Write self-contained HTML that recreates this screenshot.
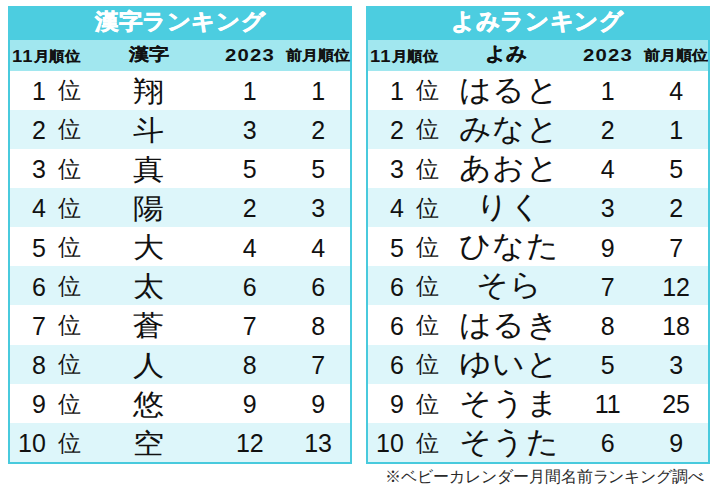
<!DOCTYPE html>
<html><head><meta charset="utf-8"><style>
html,body{margin:0;padding:0;background:#fff;width:720px;height:492px;overflow:hidden;position:relative}
body{font-family:"Liberation Sans",sans-serif}
.box{position:absolute;top:6px;width:340px;height:454px;border:2px solid #48cadd;background:#fff}
.title{position:absolute;top:6px;width:344px;height:33.75px;background:#4ccde0}
.head{position:absolute;top:39.75px;width:340px;height:30.75px;background:#a1e7ef}
.alt{position:absolute;width:340px;background:#ddf6fa}
.t,.d,.i,.k1,.k2{position:absolute;white-space:nowrap;line-height:1;transform-origin:0 0}
.d{font-size:25px;color:#111}
.i{font-size:22.5px;color:#111}
.k1{font-size:28px;width:200px;text-align:center;transform:scaleX(1.11);transform-origin:100px 0;color:#111}
.k2{font-size:30px;width:200px;text-align:center;transform:scaleX(1.065);transform-origin:100px 0;color:#111}
</style></head><body>
<div class="box" style="left:8px"></div><div class="title" style="left:8px"></div><div class="head" style="left:10px"></div><div class="alt" style="left:10px;top:109.65px;height:39.15px"></div><div class="alt" style="left:10px;top:187.95px;height:39.15px"></div><div class="alt" style="left:10px;top:266.25px;height:39.15px"></div><div class="alt" style="left:10px;top:344.55px;height:39.15px"></div><div class="alt" style="left:10px;top:422.85px;height:39.15px"></div>
<div class="box" style="left:366px"></div><div class="title" style="left:366px"></div><div class="head" style="left:368px"></div><div class="alt" style="left:368px;top:109.65px;height:39.15px"></div><div class="alt" style="left:368px;top:187.95px;height:39.15px"></div><div class="alt" style="left:368px;top:266.25px;height:39.15px"></div><div class="alt" style="left:368px;top:344.55px;height:39.15px"></div><div class="alt" style="left:368px;top:422.85px;height:39.15px"></div>
<span class="t" style="left:94.63px;top:10.62px;font-size:22.40px;transform:scaleX(1.0719);font-weight:bold;color:#fff;-webkit-text-stroke:0.6px #fff;">漢字ランキング</span><span class="t" style="left:450.55px;top:10.37px;font-size:23.01px;transform:scaleX(1.0263);font-weight:bold;color:#fff;-webkit-text-stroke:0.6px #fff;">よみランキング</span><span class="t" style="left:129.00px;top:46.58px;font-size:16.97px;transform:scaleX(1.1822);font-weight:bold;color:#111;-webkit-text-stroke:0.15px #111;">漢字</span><span class="t" style="left:485.25px;top:44.08px;font-size:19.18px;transform:scaleX(1.0918);font-weight:bold;color:#111;-webkit-text-stroke:0.15px #111;">よみ</span><span class="t" style="left:225.39px;top:47.59px;font-size:16.96px;transform:scaleX(1.1982);font-weight:bold;color:#111;letter-spacing:1.0px;">2023</span><span class="t" style="left:583.39px;top:47.59px;font-size:16.96px;transform:scaleX(1.1982);font-weight:bold;color:#111;letter-spacing:1.0px;">2023</span><span class="t" style="left:286.17px;top:48.69px;font-size:13.60px;transform:scaleX(1.1416);font-weight:bold;color:#111;-webkit-text-stroke:0.15px #111;">前月順位</span><span class="t" style="left:644.17px;top:48.69px;font-size:13.60px;transform:scaleX(1.1416);font-weight:bold;color:#111;-webkit-text-stroke:0.15px #111;">前月順位</span><span class="t" style="left:384.79px;top:468.82px;font-size:15.80px;transform:scaleX(0.9976);color:#2a2a2a;">※ベビーカレンダー月間名前ランキング調べ</span><span class="t" style="left:11.95px;top:47.73px;font-size:17.25px;transform:scaleX(1.0692);font-weight:bold;color:#111;letter-spacing:1.0px;">11</span><span class="t" style="left:33.72px;top:48.51px;font-size:14.44px;transform:scaleX(1.0996);font-weight:bold;color:#111;-webkit-text-stroke:0.15px #111;">月順位</span><span class="t" style="left:369.95px;top:47.73px;font-size:17.25px;transform:scaleX(1.0692);font-weight:bold;color:#111;letter-spacing:1.0px;">11</span><span class="t" style="left:391.72px;top:48.51px;font-size:14.44px;transform:scaleX(1.0996);font-weight:bold;color:#111;-webkit-text-stroke:0.15px #111;">月順位</span><span class="d" style="left:-54.10px;width:100px;text-align:right;top:78.95px">1</span><span class="i" style="left:58.20px;top:80.30px">位</span><span class="k1" style="left:48.60px;top:77.50px">翔</span><span class="d" style="left:199.80px;width:100px;text-align:center;top:78.95px">1</span><span class="d" style="left:268.10px;width:100px;text-align:center;top:78.95px">1</span><span class="d" style="left:-54.10px;width:100px;text-align:right;top:118.10px">2</span><span class="i" style="left:58.20px;top:119.45px">位</span><span class="k1" style="left:48.60px;top:116.65px">斗</span><span class="d" style="left:199.80px;width:100px;text-align:center;top:118.10px">3</span><span class="d" style="left:268.10px;width:100px;text-align:center;top:118.10px">2</span><span class="d" style="left:-54.10px;width:100px;text-align:right;top:157.25px">3</span><span class="i" style="left:58.20px;top:158.60px">位</span><span class="k1" style="left:48.60px;top:155.80px">真</span><span class="d" style="left:199.80px;width:100px;text-align:center;top:157.25px">5</span><span class="d" style="left:268.10px;width:100px;text-align:center;top:157.25px">5</span><span class="d" style="left:-54.10px;width:100px;text-align:right;top:196.40px">4</span><span class="i" style="left:58.20px;top:197.75px">位</span><span class="k1" style="left:48.60px;top:194.95px">陽</span><span class="d" style="left:199.80px;width:100px;text-align:center;top:196.40px">2</span><span class="d" style="left:268.10px;width:100px;text-align:center;top:196.40px">3</span><span class="d" style="left:-54.10px;width:100px;text-align:right;top:235.55px">5</span><span class="i" style="left:58.20px;top:236.90px">位</span><span class="k1" style="left:48.60px;top:234.10px">大</span><span class="d" style="left:199.80px;width:100px;text-align:center;top:235.55px">4</span><span class="d" style="left:268.10px;width:100px;text-align:center;top:235.55px">4</span><span class="d" style="left:-54.10px;width:100px;text-align:right;top:274.70px">6</span><span class="i" style="left:58.20px;top:276.05px">位</span><span class="k1" style="left:48.60px;top:273.25px">太</span><span class="d" style="left:199.80px;width:100px;text-align:center;top:274.70px">6</span><span class="d" style="left:268.10px;width:100px;text-align:center;top:274.70px">6</span><span class="d" style="left:-54.10px;width:100px;text-align:right;top:313.85px">7</span><span class="i" style="left:58.20px;top:315.20px">位</span><span class="k1" style="left:48.60px;top:312.40px">蒼</span><span class="d" style="left:199.80px;width:100px;text-align:center;top:313.85px">7</span><span class="d" style="left:268.10px;width:100px;text-align:center;top:313.85px">8</span><span class="d" style="left:-54.10px;width:100px;text-align:right;top:353.00px">8</span><span class="i" style="left:58.20px;top:354.35px">位</span><span class="k1" style="left:48.60px;top:351.55px">人</span><span class="d" style="left:199.80px;width:100px;text-align:center;top:353.00px">8</span><span class="d" style="left:268.10px;width:100px;text-align:center;top:353.00px">7</span><span class="d" style="left:-54.10px;width:100px;text-align:right;top:392.15px">9</span><span class="i" style="left:58.20px;top:393.50px">位</span><span class="k1" style="left:48.60px;top:390.70px">悠</span><span class="d" style="left:199.80px;width:100px;text-align:center;top:392.15px">9</span><span class="d" style="left:268.10px;width:100px;text-align:center;top:392.15px">9</span><span class="d" style="left:-54.10px;width:100px;text-align:right;top:431.30px">10</span><span class="i" style="left:58.20px;top:432.65px">位</span><span class="k1" style="left:48.60px;top:429.85px">空</span><span class="d" style="left:199.80px;width:100px;text-align:center;top:431.30px">12</span><span class="d" style="left:268.10px;width:100px;text-align:center;top:431.30px">13</span><span class="d" style="left:303.90px;width:100px;text-align:right;top:78.95px">1</span><span class="i" style="left:416.20px;top:80.30px">位</span><span class="k2" style="left:409.00px;top:74.70px">はると</span><span class="d" style="left:557.80px;width:100px;text-align:center;top:78.95px">1</span><span class="d" style="left:626.10px;width:100px;text-align:center;top:78.95px">4</span><span class="d" style="left:303.90px;width:100px;text-align:right;top:118.10px">2</span><span class="i" style="left:416.20px;top:119.45px">位</span><span class="k2" style="left:409.00px;top:113.85px">みなと</span><span class="d" style="left:557.80px;width:100px;text-align:center;top:118.10px">2</span><span class="d" style="left:626.10px;width:100px;text-align:center;top:118.10px">1</span><span class="d" style="left:303.90px;width:100px;text-align:right;top:157.25px">3</span><span class="i" style="left:416.20px;top:158.60px">位</span><span class="k2" style="left:409.00px;top:153.00px">あおと</span><span class="d" style="left:557.80px;width:100px;text-align:center;top:157.25px">4</span><span class="d" style="left:626.10px;width:100px;text-align:center;top:157.25px">5</span><span class="d" style="left:303.90px;width:100px;text-align:right;top:196.40px">4</span><span class="i" style="left:416.20px;top:197.75px">位</span><span class="k2" style="left:409.00px;top:192.15px">りく</span><span class="d" style="left:557.80px;width:100px;text-align:center;top:196.40px">3</span><span class="d" style="left:626.10px;width:100px;text-align:center;top:196.40px">2</span><span class="d" style="left:303.90px;width:100px;text-align:right;top:235.55px">5</span><span class="i" style="left:416.20px;top:236.90px">位</span><span class="k2" style="left:409.00px;top:231.30px">ひなた</span><span class="d" style="left:557.80px;width:100px;text-align:center;top:235.55px">9</span><span class="d" style="left:626.10px;width:100px;text-align:center;top:235.55px">7</span><span class="d" style="left:303.90px;width:100px;text-align:right;top:274.70px">6</span><span class="i" style="left:416.20px;top:276.05px">位</span><span class="k2" style="left:409.00px;top:270.45px">そら</span><span class="d" style="left:557.80px;width:100px;text-align:center;top:274.70px">7</span><span class="d" style="left:626.10px;width:100px;text-align:center;top:274.70px">12</span><span class="d" style="left:303.90px;width:100px;text-align:right;top:313.85px">6</span><span class="i" style="left:416.20px;top:315.20px">位</span><span class="k2" style="left:409.00px;top:309.60px">はるき</span><span class="d" style="left:557.80px;width:100px;text-align:center;top:313.85px">8</span><span class="d" style="left:626.10px;width:100px;text-align:center;top:313.85px">18</span><span class="d" style="left:303.90px;width:100px;text-align:right;top:353.00px">6</span><span class="i" style="left:416.20px;top:354.35px">位</span><span class="k2" style="left:409.00px;top:348.75px">ゆいと</span><span class="d" style="left:557.80px;width:100px;text-align:center;top:353.00px">5</span><span class="d" style="left:626.10px;width:100px;text-align:center;top:353.00px">3</span><span class="d" style="left:303.90px;width:100px;text-align:right;top:392.15px">9</span><span class="i" style="left:416.20px;top:393.50px">位</span><span class="k2" style="left:409.00px;top:387.90px">そうま</span><span class="d" style="left:557.80px;width:100px;text-align:center;top:392.15px">11</span><span class="d" style="left:626.10px;width:100px;text-align:center;top:392.15px">25</span><span class="d" style="left:303.90px;width:100px;text-align:right;top:431.30px">10</span><span class="i" style="left:416.20px;top:432.65px">位</span><span class="k2" style="left:409.00px;top:427.05px">そうた</span><span class="d" style="left:557.80px;width:100px;text-align:center;top:431.30px">6</span><span class="d" style="left:626.10px;width:100px;text-align:center;top:431.30px">9</span>
</body></html>
